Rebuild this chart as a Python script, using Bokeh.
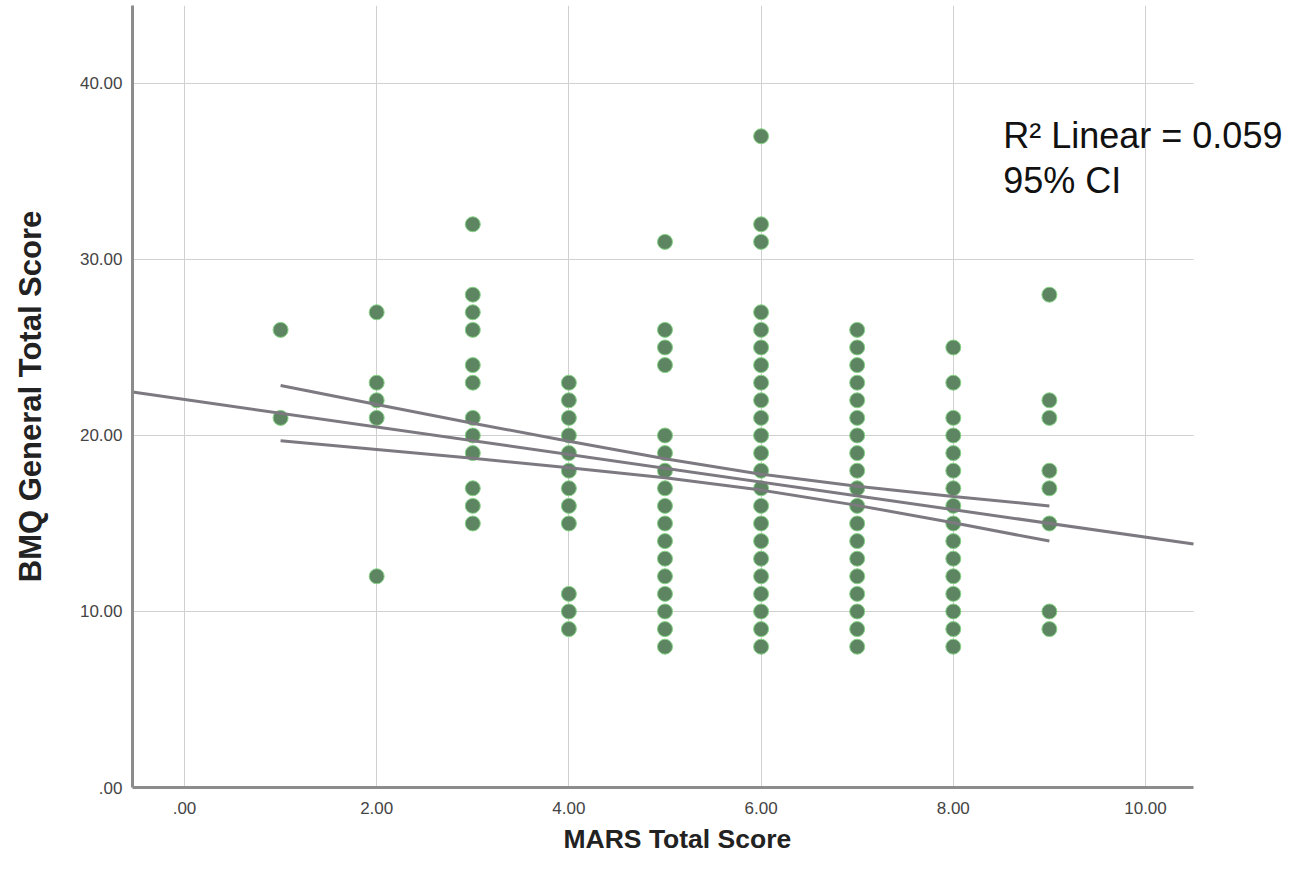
from bokeh.plotting import figure
from bokeh.models import FixedTicker, CustomJSTickFormatter, Range1d, Label, ColumnDataSource, Title
from bokeh.embed import file_html
from bokeh.resources import INLINE

# ---- data ----
mars_levels = [1, 2, 3, 4, 5, 6, 7, 8, 9]
bmq_by_level = [
    [26, 21],
    [27, 23, 22, 21, 12],
    [32, 28, 27, 26, 24, 23, 21, 20, 19, 17, 16, 15],
    [23, 22, 21, 20, 19, 18, 17, 16, 15, 11, 10, 9],
    [31, 26, 25, 24, 20, 19, 18, 17, 16, 15, 14, 13, 12, 11, 10, 9, 8],
    [37, 32, 31, 27, 26, 25, 24, 23, 22, 21, 20, 19, 18, 17, 16, 15, 14, 13, 12, 11, 10, 9, 8],
    [26, 25, 24, 23, 22, 21, 20, 19, 18, 17, 16, 15, 14, 13, 12, 11, 10, 9, 8],
    [25, 23, 21, 20, 19, 18, 17, 16, 15, 14, 13, 12, 11, 10, 9, 8],
    [28, 22, 21, 18, 17, 15, 10, 9],
]
fit_x = [-0.54, 10.5]
fit_y = [22.47, 13.83]
ci_x = [1, 2, 3, 4, 5, 6, 7, 8, 9]
ci_upper = [22.84, 21.76, 20.70, 19.67, 18.68, 17.80, 17.11, 16.54, 16.00]
ci_lower = [19.70, 19.20, 18.70, 18.17, 17.60, 16.90, 16.03, 15.04, 14.00]
x_ticks = [0, 2, 4, 6, 8, 10]
y_ticks = [0, 10, 20, 30, 40]
x_title = "MARS Total Score"
y_title = "BMQ General Total Score"
r2_text = "R\u00b2 Linear = 0.059"
ci_text = "95% CI"

X_MIN, X_MAX = -0.541, 10.5      # visible axis extent
xs, ys = [], []
for lvl, vals in zip(mars_levels, bmq_by_level):
    for v in vals:
        xs.append(lvl)
        ys.append(v)
src = ColumnDataSource(dict(x=xs, y=ys))

# frame extends to the right window edge so the annotation text is not clipped
p = figure(width=1295, height=881, output_backend="svg", toolbar_location=None,
           x_range=Range1d(X_MIN, X_MIN + 1163 / 96.1), y_range=Range1d(0, 44.43),
           min_border_left=132, min_border_right=0, min_border_top=5, min_border_bottom=94,
           frame_width=1163, frame_height=782)
p.outline_line_color = None
p.background_fill_color = "white"

fmt = CustomJSTickFormatter(code="return tick === 0 ? '.00' : tick.toFixed(2);")
for ax, ticks in ((p.xaxis[0], x_ticks), (p.yaxis[0], y_ticks)):
    ax.ticker = FixedTicker(ticks=ticks)
    ax.formatter = fmt
    ax.major_tick_line_color = None
    ax.minor_tick_line_color = None
    ax.major_tick_out = 0
    ax.major_tick_in = 0
    ax.minor_tick_out = 0
    ax.minor_tick_in = 0
    ax.axis_line_color = "#8c8c8c"
    ax.axis_line_width = 3
    ax.major_label_text_font = "Liberation Sans"
    ax.major_label_text_font_size = "17px"
    ax.major_label_text_color = "#444444"
    ax.axis_label_text_font = "Liberation Sans"
    ax.axis_label_text_font_style = "bold"
    ax.axis_label_text_color = "#222222"

p.xaxis.bounds = (X_MIN, X_MAX)
p.xaxis.major_label_standoff = 14
p.yaxis.axis_label = y_title
p.yaxis.axis_label_text_font_size = "31px"
p.yaxis.major_label_standoff = 10
p.yaxis.axis_label_standoff = 29

# x axis title centred under the visible axis extent (not the extended frame)
p.add_layout(Title(text=x_title, align="left", offset=431, standoff=11,
                   text_font="Liberation Sans", text_font_style="bold",
                   text_font_size="26.5px", text_color="#222222"), "below")

p.xgrid.ticker = FixedTicker(ticks=x_ticks)
p.xgrid.grid_line_color = "#d0d0d0"
p.xgrid.grid_line_width = 1
p.ygrid.visible = False
# horizontal grid lines limited to the axis extent
p.segment(x0=[X_MIN] * len(y_ticks), x1=[X_MAX] * len(y_ticks), y0=y_ticks, y1=y_ticks,
          line_color="#d0d0d0", line_width=1, level="underlay")

p.scatter("x", "y", source=src, size=15, fill_color="#5d8562", line_color="#86d586", line_width=1)

line_col = "#7d7980"
p.line(fit_x, fit_y, line_color=line_col, line_width=3)
p.line(ci_x, ci_upper, line_color=line_col, line_width=3)
p.line(ci_x, ci_lower, line_color=line_col, line_width=3)

for txt, yv in ((r2_text, 37.04), (ci_text, 34.48)):
    p.add_layout(Label(x=8.52, y=yv, text=txt, text_font="Liberation Sans",
                       text_font_size="36px", text_color="#111111",
                       text_baseline="alphabetic", text_align="left"))

open("out.html", "w").write(file_html(p, INLINE))
